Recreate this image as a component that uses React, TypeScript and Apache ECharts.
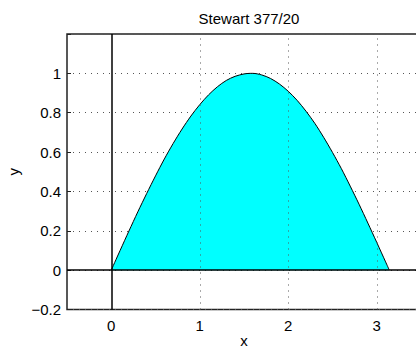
import React, { useEffect, useRef } from "react";
import * as echarts from "echarts";

const titleText = "Stewart 377/20";
const xName = "x";
const yName = "y";
const xValues = [0, 0.1, 0.2, 0.3, 0.4, 0.5, 0.6, 0.7, 0.8, 0.9, 1.0, 1.1, 1.2, 1.3, 1.4, 1.5, 1.57, 1.6, 1.7, 1.8, 1.9, 2.0, 2.1, 2.2, 2.3, 2.4, 2.5, 2.6, 2.7, 2.8, 2.9, 3.0, 3.1, 3.14];
const yValues = [0, 0.100, 0.199, 0.296, 0.389, 0.479, 0.565, 0.644, 0.717, 0.783, 0.841, 0.891, 0.932, 0.964, 0.985, 0.997, 1.000, 1.000, 0.992, 0.974, 0.946, 0.909, 0.863, 0.808, 0.746, 0.675, 0.598, 0.516, 0.427, 0.335, 0.239, 0.141, 0.042, 0.002];
const xTicks = [0, 1, 2, 3];
const xGridLines = [1, 2, 3];
const xRange = [-0.5, 3.5];
const yRange = [-0.2, 1.2];

const FONT = "'Liberation Sans', Arial, Helvetica, sans-serif";
const FS = 15;

export default function App() {
  const ref = useRef<HTMLDivElement>(null);
  useEffect(() => {
    if (!ref.current) return;
    const chart = echarts.init(ref.current, undefined, { renderer: "svg" });
    const data = xValues.map((x, i) => [x, yValues[i]]);
    chart.setOption({
      animation: false,
      backgroundColor: "#ffffff",
      textStyle: { fontFamily: FONT },
      title: {
        text: titleText,
        left: 244,
        top: 6,
        textAlign: "center",
        textStyle: { fontFamily: FONT, fontSize: FS, fontWeight: "normal", color: "#000" },
      },
      grid: {
        left: 67,
        top: 34,
        right: -5,
        bottom: 38.5,
        show: true,
        borderColor: "#222",
        borderWidth: 1.5,
        backgroundColor: "transparent",
        outerBoundsMode: "none",
        containLabel: false,
      },
      xAxis: {
        type: "value",
        min: xRange[0],
        max: xRange[1],
        interval: 0.5,
        name: xName,
        nameLocation: "middle",
        nameGap: 23,
        nameMoveOverlap: false,
        nameTextStyle: { fontFamily: FONT, fontSize: FS, color: "#000" },
        axisLine: { show: false, onZero: false },
        axisTick: { show: false },
        splitLine: { show: false },
        axisLabel: {
          fontFamily: FONT,
          fontSize: FS,
          color: "#000",
          margin: 8,
          showMinLabel: true,
          showMaxLabel: true,
          formatter: (v: number) => (xTicks.some((t) => Math.abs(t - v) < 1e-6) ? String(Math.round(v)) : ""),
        },
      },
      yAxis: {
        type: "value",
        min: yRange[0],
        max: yRange[1],
        interval: 0.2,
        name: yName,
        nameLocation: "middle",
        nameGap: 46,
        nameMoveOverlap: false,
        nameRotate: 90,
        nameTextStyle: { fontFamily: FONT, fontSize: FS, color: "#000" },
        axisLine: { show: false, onZero: false },
        axisTick: { show: true, inside: true, length: 4, lineStyle: { color: "#222" } },
        splitLine: { show: true, lineStyle: { color: "#555", width: 1, type: [1, 5] } },
        axisLabel: {
          fontFamily: FONT,
          fontSize: FS,
          color: "#000",
          margin: 6,
          formatter: (v: number) => {
            if (Math.abs(v - yRange[1]) < 1e-6) return "";
            const s = String(Number(v.toFixed(1)));
            return s.replace("-", "\u2212");
          },
        },
      },
      series: [
        {
          type: "line",
          z: 1,
          data: [],
          silent: true,
          markLine: {
            silent: true,
            symbol: ["none", "none"],
            label: { show: false },
            lineStyle: { color: "#555", width: 1, type: [1, 5] },
            data: xGridLines.map((v) => ({ xAxis: v })),
          },
        },
        {
          type: "line",
          z: 2,
          data,
          showSymbol: false,
          smooth: 0.3,
          lineStyle: { color: "#000", width: 1 },
          areaStyle: { color: "#00ffff", opacity: 1 },
          markLine: {
            silent: true,
            symbol: ["none", "none"],
            label: { show: false },
            lineStyle: { color: "#000", width: 1.5, type: "solid" },
            data: [{ xAxis: 0 }, { yAxis: 0 }],
          },
        },
      ],
    });
    return () => chart.dispose();
  }, []);
  return (
    <div
      ref={ref}
      style={{ position: "fixed", left: 0, top: 0, width: 416, height: 348 }}
    />
  );
}
